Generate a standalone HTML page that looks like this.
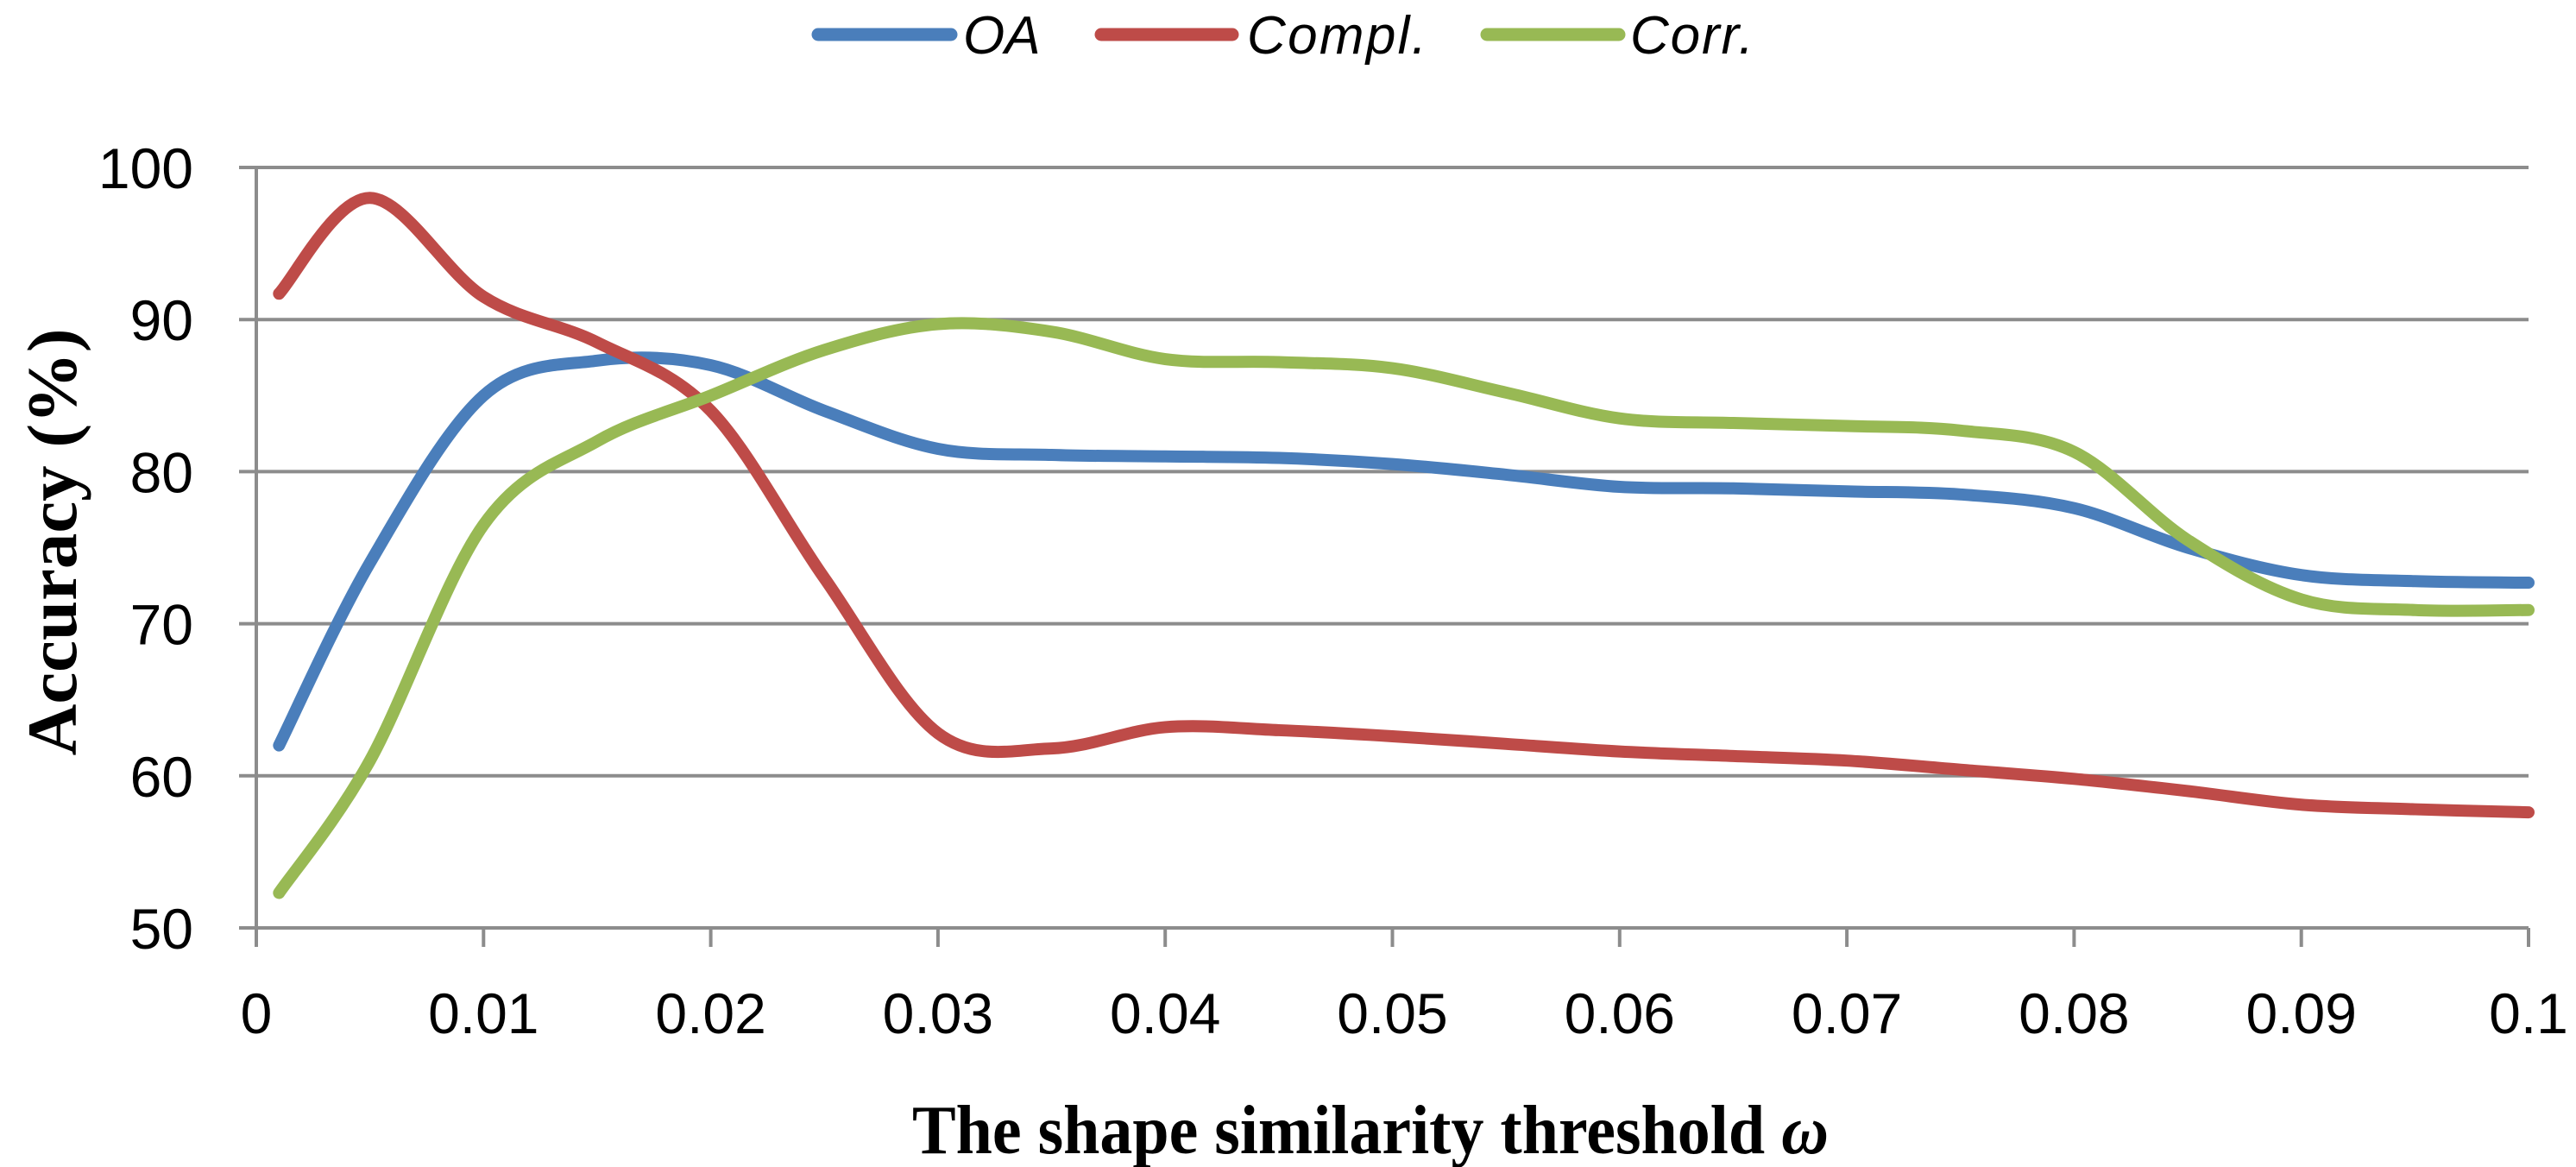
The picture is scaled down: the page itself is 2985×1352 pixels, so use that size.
<!DOCTYPE html>
<html><head><meta charset="utf-8"><style>
html,body{margin:0;padding:0;background:#fff;}
svg{display:block;}
</style></head><body>
<svg id="chart" width="2985" height="1352" viewBox="0 0 2985 1352" xmlns="http://www.w3.org/2000/svg">
<g id="grid"></g>
<g id="axes"></g>
<g id="series"></g>
<g id="legend">
  <line x1="948" y1="40" x2="1102" y2="40" stroke="#4a7ebb" stroke-width="15" stroke-linecap="round"/>
  <text x="1116" y="62" font-family="Liberation Sans, sans-serif" font-style="italic" font-size="62">OA</text>
  <line x1="1276" y1="40" x2="1428" y2="40" stroke="#be4b48" stroke-width="15" stroke-linecap="round"/>
  <text x="1445" y="62" font-family="Liberation Sans, sans-serif" font-style="italic" font-size="62" textLength="208">Compl.</text>
  <line x1="1723" y1="40" x2="1876" y2="40" stroke="#98b954" stroke-width="15" stroke-linecap="round"/>
  <text x="1889" y="62" font-family="Liberation Sans, sans-serif" font-style="italic" font-size="62" textLength="143">Corr.</text>
</g>
<text transform="translate(88,628) rotate(-90)" text-anchor="middle" font-family="Liberation Serif, serif" font-weight="bold" font-size="82" textLength="495" lengthAdjust="spacingAndGlyphs">Accuracy (%)</text>
<text x="1588" y="1336" text-anchor="middle" font-family="Liberation Serif, serif" font-weight="bold" font-size="80" textLength="1062" lengthAdjust="spacingAndGlyphs">The shape similarity threshold <tspan font-style="italic">ω</tspan></text>
</svg>
<script>
const xs = [0.001,0.005,0.01,0.015,0.02,0.025,0.03,0.035,0.04,0.045,0.05,0.055,0.06,0.065,0.07,0.075,0.08,0.085,0.09,0.095,0.1];
const oaValues = [62,74,85,87.3,87,84,81.5,81.1,81,80.9,80.5,79.8,79,78.9,78.7,78.5,77.6,75,73.2,72.8,72.7];
const complValues = [91.7,98,91.5,88.5,84,73,62.8,61.8,63.2,63,62.6,62.1,61.6,61.3,61,60.4,59.8,59,58.1,57.8,57.6];
const corrValues = [52.3,61,76.5,82,85,88,89.7,89.2,87.4,87.2,86.8,85.2,83.5,83.2,83,82.7,81.3,75.5,71.6,70.9,70.9];
const xTicks = [0,0.01,0.02,0.03,0.04,0.05,0.06,0.07,0.08,0.09,0.1];
const xTickLabels = ["0","0.01","0.02","0.03","0.04","0.05","0.06","0.07","0.08","0.09","0.1"];
const yTicks = [50,60,70,80,90,100];

const NS="http://www.w3.org/2000/svg";
const X0=297,X1=2930,Y0=1075,Y1=194;
function sx(v){return X0+(v-0)/(0.1-0)*(X1-X0);}
function sy(v){return Y0-(v-50)/(100-50)*(Y0-Y1);}
function mk(tag,attrs,parent){const e=document.createElementNS(NS,tag);for(const k in attrs)e.setAttribute(k,attrs[k]);parent.appendChild(e);return e;}

const grid=document.getElementById('grid'), axes=document.getElementById('axes'), series=document.getElementById('series');
yTicks.forEach(t=>{
  const l=mk('line',{x1:X0-20,x2:X1,y1:sy(t),y2:sy(t),stroke:'#8c8c8c','stroke-width':4},grid);
  
  
  const tx=mk('text',{x:224,y:sy(t)+24,'text-anchor':'end','font-family':'Liberation Sans, sans-serif','font-size':66,fill:'#000'},axes);
  tx.textContent=String(t);
  
  
});
const ya=mk('line',{x1:X0,x2:X0,y1:Y1,y2:Y0+22,stroke:'#8c8c8c','stroke-width':4},axes);


xTicks.forEach((t,i)=>{
  const tk=mk('line',{x1:sx(t),x2:sx(t),y1:Y0,y2:Y0+22,stroke:'#8c8c8c','stroke-width':4},axes);
  
  
  const tx=mk('text',{x:sx(t),y:1197,'text-anchor':'middle','font-family':'Liberation Sans, sans-serif','font-size':66,fill:'#000'},axes);
  tx.textContent=xTickLabels[i];
  
  
});

function smoothPath(vals){
  const p=xs.map((x,i)=>[sx(x),sy(vals[i])]);
  let d='M'+p[0][0]+','+p[0][1];
  for(let i=0;i<p.length-1;i++){
    const a=p[i-1]||p[i], b=p[i], c=p[i+1], e=p[i+2]||p[i+1];
    const c1=[b[0]+(c[0]-a[0])/6,b[1]+(c[1]-a[1])/6];
    const c2=[c[0]-(e[0]-b[0])/6,c[1]-(e[1]-b[1])/6];
    d+=' C'+c1[0]+','+c1[1]+' '+c2[0]+','+c2[1]+' '+c[0]+','+c[1];
  }
  return d;
}
const defs=[['oa',oaValues,'#4a7ebb'],['compl',complValues,'#be4b48'],['corr',corrValues,'#98b954']];
defs.forEach(([n,v,c])=>{
  const p=mk('path',{d:smoothPath(v),fill:'none',stroke:c,'stroke-width':14,'stroke-linecap':'round','stroke-linejoin':'round'},series);
  
  
});
</script>
</body></html>
